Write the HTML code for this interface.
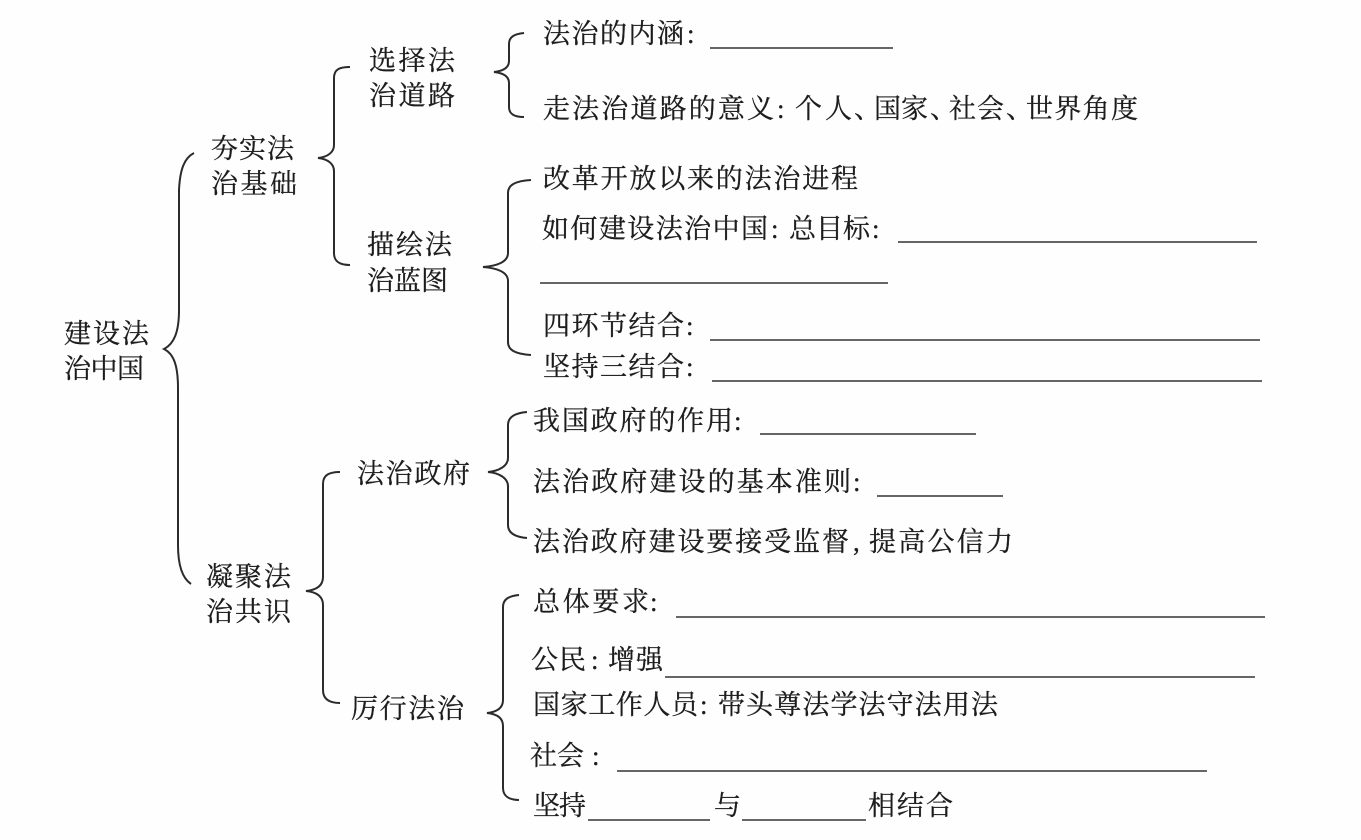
<!DOCTYPE html>
<html lang="zh"><head><meta charset="utf-8"><title>建设法治中国</title>
<style>
html,body{margin:0;padding:0;background:#fefefe}
svg{display:block}
text{font-family:"Liberation Serif","Noto Serif CJK SC",serif;font-size:27px;fill:#1d1d1d;stroke:#1d1d1d;stroke-width:.3px}
.b{fill:none;stroke:#2b2b2b;stroke-width:2}
.u{stroke:#333;stroke-width:1.4}
</style></head><body>
<svg width="1361" height="840" viewBox="0 0 1361 840" xmlns="http://www.w3.org/2000/svg">
<path class="b" d="M194 153C184 158 180 170 179 190V310C179 332 174 344 164 349C174 354 178 366 178 388V545C178 565 182 578 191 584"/>
<path class="b" d="M350 67C340 67 334 69 334 78V145C334 152 328 157 318 158C328 159 334 164 334 171V253C334 262 340 265 350 265"/>
<path class="b" d="M524 33C514 34 509 37 509 44V61C509 68 503 71 494 72C503 73 509 76 509 83V107C509 114 514 117 524 117"/>
<path class="b" d="M531 180C515 181 508 185 508 193V253C508 262 497 266 483 267C497 268 508 272 508 281V342C508 350 515 354 531 355"/>
<path class="b" d="M527 412C515 413 508 417 508 425V458C508 466 499 471 488 472C499 473 508 478 508 486V525C508 533 515 537 527 538"/>
<path class="b" d="M340 472C329 472 323 475 323 484V577C323 586 316 590 306 591C316 592 323 596 323 605V690C323 699 329 703 340 703"/>
<path class="b" d="M519 595C509 596 503 599 503 607V700C503 708 497 712 487 713C497 714 503 718 503 726V788C503 796 509 800 519 800"/>

<text x="64" y="343" textLength="85">建设法</text>
<text x="64" y="378" textLength="80">治中国</text>
<text x="211" y="158" textLength="83">夯实法</text>
<text x="211" y="193" textLength="86">治基础</text>
<text x="369" y="70" textLength="86">选择法</text>
<text x="369" y="105" textLength="86">治道路</text>
<text x="367" y="254" textLength="85">描绘法</text>
<text x="367" y="290" textLength="81">治蓝图</text>
<text x="357" y="483" textLength="113">法治政府</text>
<text x="206" y="586" textLength="85">凝聚法</text>
<text x="206" y="621" textLength="85">治共识</text>
<text x="351" y="718" textLength="113">厉行法治</text>

<text x="543" y="43" textLength="141">法治的内涵</text><text x="687" y="43">:</text>
<text x="543" y="118" textLength="231">走法治道路的意义</text><text x="777" y="118">:</text>
<text x="795" y="118" textLength="57">个人</text><text x="854" y="118">、</text>
<text x="874" y="118" textLength="54">国家</text><text x="930" y="118">、</text>
<text x="949" y="118" textLength="55">社会</text><text x="1006" y="118">、</text>
<text x="1026" y="118" textLength="112">世界角度</text>
<text x="543" y="188" textLength="315">改革开放以来的法治进程</text>
<text x="542" y="238" textLength="226">如何建设法治中国</text><text x="771" y="238">:</text>
<text x="789" y="238" textLength="81">总目标</text><text x="872" y="238">:</text>
<text x="543" y="335" textLength="141">四环节结合</text><text x="686" y="335">:</text>
<text x="543" y="376" textLength="141">坚持三结合</text><text x="686" y="376">:</text>
<text x="533" y="430" textLength="200">我国政府的作用</text><text x="734" y="430">:</text>
<text x="533" y="491" textLength="318">法治政府建设的基本准则</text><text x="853" y="491">:</text>
<text x="533" y="551" textLength="316">法治政府建设要接受监督</text><text x="853" y="551">,</text>
<text x="869" y="551" textLength="144">提高公信力</text>
<text x="533" y="611" textLength="116">总体要求</text><text x="650" y="611">:</text>
<text x="531" y="669" textLength="55">公民</text><text x="591" y="669">:</text>
<text x="608" y="669" textLength="55">增强</text>
<text x="533" y="714" textLength="165">国家工作人员</text><text x="700" y="714">:</text>
<text x="718" y="714" textLength="280">带头尊法学法守法用法</text>
<text x="530" y="765" textLength="54">社会</text><text x="592" y="765">:</text>
<text x="533" y="815" textLength="53">坚持</text>
<text x="714" y="815" textLength="26">与</text>
<text x="868" y="815" textLength="85">相结合</text>

<g class="u">
<line x1="710" y1="48" x2="893" y2="48"/>
<line x1="898" y1="242" x2="1257" y2="242"/>
<line x1="540" y1="283" x2="888" y2="283"/>
<line x1="710" y1="340" x2="1260" y2="340"/>
<line x1="712" y1="381" x2="1262" y2="381"/>
<line x1="760" y1="434" x2="976" y2="434"/>
<line x1="877" y1="496" x2="1003" y2="496"/>
<line x1="676" y1="617" x2="1265" y2="617"/>
<line x1="665" y1="677" x2="1255" y2="677"/>
<line x1="617" y1="771" x2="1207" y2="771"/>
<line x1="588" y1="820" x2="710" y2="820"/>
<line x1="742" y1="820" x2="866" y2="820"/>
</g>
</svg>
</body></html>
